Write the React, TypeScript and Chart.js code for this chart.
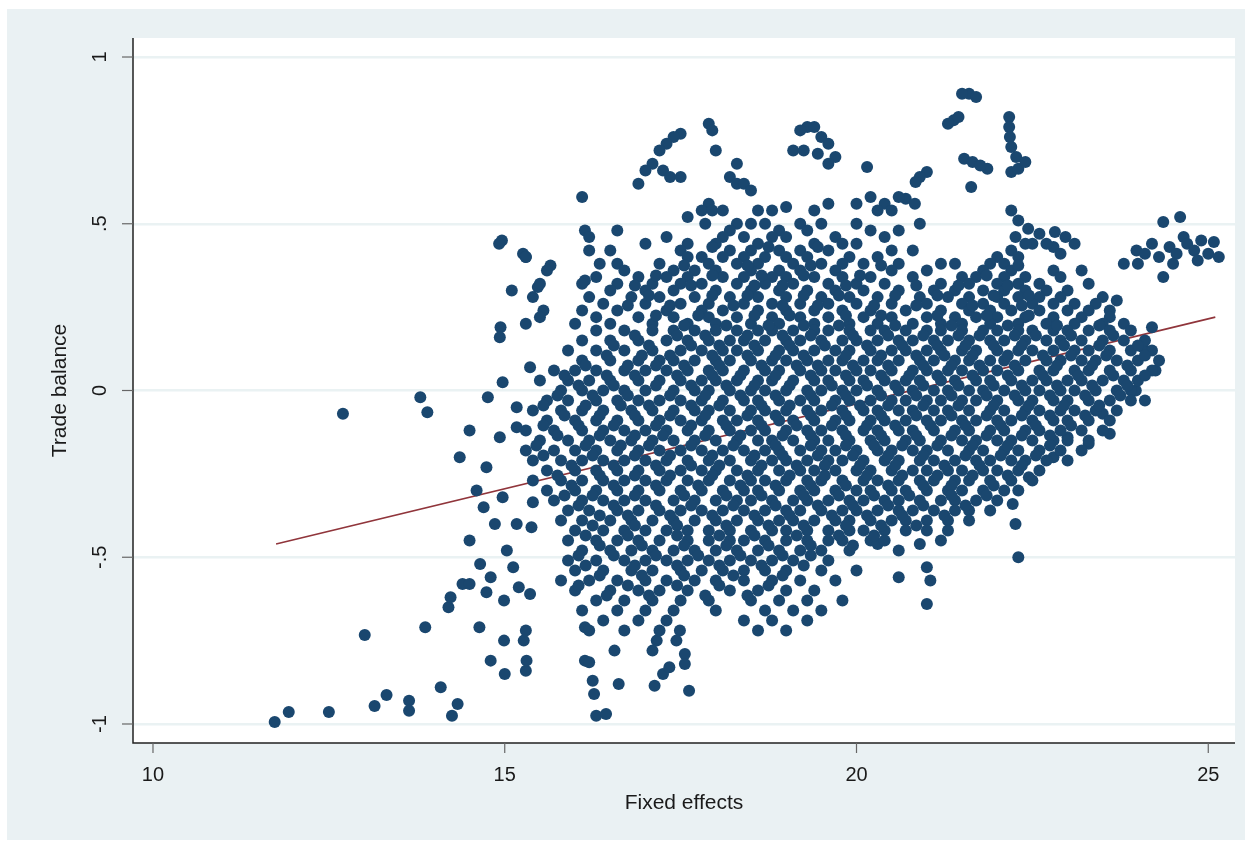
import { useEffect, useRef } from "react"
import { Chart, registerables } from "chart.js"
import type { Plugin } from "chart.js"

Chart.register(...registerables)

// axis ticks
const xTicks: number[] = [10, 15, 20, 25]
const xTickLabels: string[] = ["10", "15", "20", "25"]
const yTicks: number[] = [-1, -0.5, 0, 0.5, 1]
const yTickLabels: string[] = ["-1", "-.5", "0", ".5", "1"]

// fitted line end points
const fitX: number[] = [11.75, 25.1]
const fitY: number[] = [-0.46, 0.22]

// isolated points, "x,y"
const outliers: string[] = [
  "11.73,-0.994", "11.93,-0.964", "12.5,-0.964", "13.01,-0.733", "13.15,-0.946", "13.32,-0.913",
  "13.64,-0.93", "13.64,-0.96", "14.09,-0.89", "14.25,-0.975", "14.33,-0.94", "12.7,-0.07",
  "13.8,-0.02", "13.9,-0.065", "13.87,-0.71", "14.2,-0.65", "14.23,-0.62", "14.4,-0.58", "14.5,-0.58",
  "14.36,-0.2", "14.5,-0.12", "16.1,0.58", "14.96,0.45", "15.26,0.41", "15.65,0.375", "15.47,0.31",
  "15.55,0.24", "14.94,0.19", "16.14,0.48", "16.14,0.33", "14.76,-0.02", "14.97,0.025", "15.36,0.07",
  "15.17,-0.05", "15.17,-0.11", "14.93,-0.14", "14.74,-0.23", "14.97,-0.32", "15.4,-0.335",
  "14.86,-0.4", "15.17,-0.4", "15.38,-0.41", "15.03,-0.48", "15.12,-0.53", "14.8,-0.56", "15.2,-0.59",
  "14.74,-0.605", "14.99,-0.63", "15.36,-0.61", "14.64,-0.71", "14.99,-0.75", "15.27,-0.75",
  "15.3,-0.72", "16.14,-0.71", "16.14,-0.81", "16.25,-0.87", "16.56,-0.78", "17.16,-0.75",
  "17.1,-0.78", "17.49,-0.72", "17.56,-0.79", "17.44,-0.75", "16.2,-0.815", "16.27,-0.91",
  "16.3,-0.975", "16.44,-0.97", "16.62,-0.88", "17.13,-0.885", "17.25,-0.85", "17.34,-0.83",
  "17.62,-0.9", "17.56,-0.82", "14.8,-0.81", "15.0,-0.85", "15.3,-0.84", "15.31,-0.81",
  "14.92,0.44", "14.93,0.16", "15.3,0.4", "14.6,-0.3", "14.7,-0.35", "14.5,-0.45", "14.65,-0.52",
  "21.6,0.89", "21.5,0.89", "21.7,0.88", "21.38,0.81", "21.3,0.8", "21.45,0.82", "22.17,0.82",
  "22.17,0.79", "22.18,0.76", "22.27,0.7", "22.2,0.73", "21.53,0.695", "21.65,0.685", "21.86,0.665",
  "21.76,0.675", "22.2,0.655", "22.3,0.665", "22.4,0.685", "21.63,0.61", "20.15,0.67", "21.0,0.655",
  "20.9,0.64", "20.84,0.625", "20.2,0.58", "20.7,0.575", "20.83,0.56", "20.6,0.58", "22.2,0.54",
  "22.3,0.51", "22.44,0.485", "22.82,0.475", "22.97,0.46", "22.8,0.43", "22.26,0.46", "22.6,0.47",
  "23.2,0.36", "24.6,0.52", "24.36,0.505", "23.98,0.42", "24.36,0.34", "25.08,0.445", "24.65,0.46",
  "22.22,-0.34", "22.26,-0.4", "22.3,-0.5", "21.0,-0.53", "21.05,-0.57", "20.2,-0.45", "20.3,-0.46",
  "20.9,-0.46", "21.0,-0.64", "20.6,-0.56", "23.5,-0.07", "23.6,-0.13", "23.3,-0.16", "23.0,-0.14",
  "22.45,-0.26", "22.8,-0.2", "24.2,0.19", "24.07,0.13", "24.25,0.06", "23.97,0.0", "23.7,0.27",
  "19.3,0.79", "19.4,0.79", "19.2,0.78", "19.5,0.76", "19.6,0.74", "19.1,0.72", "19.25,0.72",
  "19.45,0.71", "19.7,0.7", "19.6,0.68", "17.9,0.8", "17.95,0.78", "17.5,0.77", "17.4,0.76",
  "17.3,0.74", "17.2,0.72", "18.0,0.72", "17.1,0.68", "17.0,0.66", "17.25,0.66", "17.35,0.64",
  "17.5,0.64", "18.2,0.64", "18.3,0.68", "18.3,0.62", "18.4,0.62", "16.9,0.62", "18.5,0.6",
  "17.9,0.56", "17.8,0.54", "17.95,0.54", "18.1,0.54", "17.6,0.52", "19.6,0.56", "20.0,0.56",
  "20.4,0.56", "20.3,0.54", "20.5,0.54", "18.6,0.54", "18.8,0.54", "19.0,0.55", "19.4,0.54",
  "24.2,0.44", "24.45,0.43", "24.7,0.44", "24.9,0.45", "24.1,0.41", "24.3,0.4", "24.55,0.41",
  "24.8,0.42", "25.0,0.41", "25.15,0.4", "24.0,0.38", "24.5,0.38", "24.85,0.39", "23.8,0.38",
  "23.1,0.44", "22.9,0.41", "22.5,0.44", "23.3,0.32",
]

// rows of the upper band: "y|x x x"
const upperRows: string[] = [
  "0.50|17.85 18.3 18.5 18.7 19.2 19.5 20.0 20.9",
  "0.48|16.6 18.2 18.9 19.3 20.2 20.6",
  "0.46|16.2 17.3 18.1 18.4 18.8 19.0 19.7 20.4",
  "0.44|17.0 17.6 18.0 18.6 19.4 19.8 20.0 22.4 22.7",
  "0.42|16.2 16.5 17.5 18.2 18.5 18.9 19.2 19.6 20.5 20.8 22.2",
  "0.40|15.3 17.6 17.8 18.1 18.4 18.7 19.0 19.3 19.9 20.3 22.0 22.3",
  "0.38|16.35 16.6 17.2 17.9 18.3 18.6 19.1 19.5 19.8 20.1 20.6 21.2 21.4 21.9 22.1",
  "0.36|15.6 16.7 17.4 17.7 18.0 18.5 18.9 19.2 19.7 20.5 21.0 21.8 22.2 22.8",
  "0.34|16.3 16.9 17.3 17.6 18.1 18.4 18.8 19.0 19.4 19.8 20.2 20.8 21.5 21.7 22.1 22.4 22.9",
  "0.32|15.5 16.1 16.6 17.1 17.5 17.8 18.3 18.7 19.1 19.6 20.0 20.4 21.2 21.6 22.0 22.3 22.6",
  "0.30|15.1 16.5 17.0 17.4 18.0 18.5 18.9 19.3 19.7 20.1 20.6 21.1 21.4 21.8 22.1 22.4 22.7 23.0",
  "0.28|15.4 16.2 16.8 17.2 17.7 18.2 18.6 19.0 19.5 19.9 20.3 20.9 21.3 21.6 22.0 22.3 22.6 22.9 23.5",
  "0.26|16.4 17.0 17.5 17.9 18.4 18.8 19.2 19.6 20.0 20.5 21.0 21.5 21.8 22.1 22.5 22.8 23.1 23.4",
  "0.24|16.1 16.6 17.3 17.8 18.1 18.6 19.0 19.4 19.8 20.2 20.7 21.2 21.6 21.9 22.2 22.6 23.0 23.3 23.6",
  "0.22|15.5 16.3 16.9 17.4 17.9 18.3 18.8 19.2 19.6 20.1 20.5 21.0 21.4 21.7 22.0 22.4 22.8 23.2 23.6",
  "0.20|15.3 16.0 16.5 17.1 17.6 18.0 18.5 18.9 19.4 19.9 20.3 20.8 21.2 21.5 21.9 22.3 22.7 23.1 23.5 23.8",
]

// rows of the dense core
const coreRows: string[] = [
  "0.18|16.3 16.7 17.1 17.4 17.7 18.0 18.3 18.6 18.8 19.1 19.4 19.6 19.9 20.2 20.4 20.7 21.0 21.2 21.5 21.8 22.0 22.3 22.5 22.8 23.0 23.3 23.6 23.9",
  "0.15|16.1 16.5 16.9 17.3 17.6 17.9 18.2 18.4 18.7 19.0 19.2 19.5 19.8 20.0 20.3 20.6 20.8 21.1 21.3 21.6 21.9 22.1 22.4 22.7 22.9 23.2 23.5 23.8 24.1",
  "0.12|15.9 16.3 16.7 17.1 17.5 17.8 18.1 18.3 18.6 18.9 19.1 19.4 19.7 19.9 20.2 20.5 20.7 21.0 21.2 21.5 21.7 22.0 22.3 22.5 22.8 23.1 23.3 23.6 23.9 24.2",
  "0.09|16.1 16.5 16.9 17.2 17.4 17.7 18.0 18.2 18.5 18.8 19.0 19.3 19.6 19.8 20.1 20.3 20.6 20.9 21.1 21.4 21.6 21.9 22.1 22.4 22.7 22.9 23.2 23.4 23.7 24.0 24.3",
  "0.06|15.7 16.0 16.3 16.7 17.0 17.3 17.6 17.9 18.1 18.4 18.7 18.9 19.2 19.5 19.7 20.0 20.2 20.5 20.8 21.0 21.3 21.5 21.8 22.0 22.3 22.6 22.8 23.1 23.3 23.6 23.9 24.2",
  "0.03|15.5 15.9 16.2 16.5 16.9 17.2 17.5 17.8 18.0 18.3 18.6 18.8 19.1 19.4 19.6 19.9 20.1 20.4 20.7 20.9 21.2 21.4 21.7 21.9 22.2 22.5 22.7 23.0 23.2 23.5 23.8 24.0",
  "0.00|15.8 16.1 16.4 16.7 17.0 17.4 17.7 17.9 18.2 18.5 18.7 19.0 19.3 19.5 19.8 20.0 20.3 20.6 20.8 21.1 21.3 21.6 21.8 22.1 22.4 22.6 22.9 23.1 23.4 23.7 23.9",
  "-0.03|15.6 15.9 16.3 16.6 16.9 17.2 17.5 17.8 18.1 18.4 18.6 18.9 19.2 19.4 19.7 19.9 20.2 20.5 20.7 21.0 21.2 21.5 21.7 22.0 22.3 22.5 22.8 23.0 23.3 23.6 23.9 24.1",
  "-0.06|15.4 15.8 16.1 16.4 16.8 17.1 17.4 17.7 17.9 18.2 18.5 18.7 19.0 19.3 19.5 19.8 20.1 20.3 20.6 20.8 21.1 21.3 21.6 21.9 22.1 22.4 22.6 22.9 23.1 23.4 23.7",
  "-0.09|15.6 16.0 16.3 16.6 16.9 17.2 17.5 17.8 18.1 18.3 18.6 18.9 19.1 19.4 19.7 19.9 20.2 20.4 20.7 21.0 21.2 21.5 21.7 22.0 22.2 22.5 22.8 23.0 23.3 23.6",
  "-0.12|15.3 15.7 16.1 16.4 16.7 17.0 17.3 17.6 17.9 18.2 18.5 18.7 19.0 19.3 19.5 19.8 20.1 20.3 20.6 20.8 21.1 21.4 21.6 21.9 22.1 22.4 22.6 22.9 23.2 23.5",
  "-0.15|15.5 15.9 16.2 16.5 16.8 17.1 17.4 17.7 18.0 18.3 18.6 18.8 19.1 19.4 19.6 19.9 20.2 20.4 20.7 20.9 21.2 21.5 21.7 22.0 22.2 22.5 22.8 23.0 23.3",
  "-0.18|15.3 15.7 16.0 16.3 16.6 16.9 17.2 17.5 17.8 18.1 18.4 18.7 18.9 19.2 19.5 19.7 20.0 20.3 20.5 20.8 21.0 21.3 21.6 21.8 22.1 22.3 22.6 22.9 23.2",
  "-0.21|15.4 15.8 16.1 16.4 16.7 17.0 17.3 17.6 17.9 18.2 18.5 18.8 19.0 19.3 19.6 19.8 20.1 20.4 20.6 20.9 21.1 21.4 21.7 21.9 22.2 22.4 22.7 23.0",
  "-0.24|15.6 16.0 16.3 16.6 16.9 17.2 17.5 17.8 18.0 18.3 18.6 18.9 19.2 19.4 19.7 20.0 20.2 20.5 20.8 21.0 21.3 21.5 21.8 22.0 22.3 22.6",
  "-0.27|15.4 15.8 16.1 16.4 16.7 17.0 17.3 17.6 17.9 18.2 18.5 18.7 19.0 19.3 19.5 19.8 20.1 20.3 20.6 20.9 21.1 21.4 21.6 21.9 22.2 22.5",
  "-0.30|15.6 16.0 16.3 16.6 16.9 17.2 17.5 17.8 18.1 18.4 18.6 18.9 19.2 19.4 19.7 20.0 20.2 20.5 20.7 21.0 21.3 21.5 21.8 22.1 22.3",
  "-0.33|15.7 16.1 16.4 16.7 17.0 17.4 17.7 18.0 18.3 18.5 18.8 19.1 19.3 19.6 19.9 20.1 20.4 20.6 20.9 21.2 21.4 21.7 22.0",
  "-0.36|15.9 16.2 16.6 16.9 17.2 17.5 17.8 18.1 18.4 18.7 19.0 19.2 19.5 19.8 20.0 20.3 20.6 20.8 21.1 21.4 21.6 21.9",
  "-0.39|15.8 16.1 16.5 16.8 17.1 17.4 17.7 18.0 18.3 18.6 18.9 19.1 19.4 19.7 19.9 20.2 20.5 20.7 21.0 21.3 21.6",
  "-0.42|16.0 16.4 16.7 17.0 17.3 17.6 17.9 18.2 18.5 18.8 19.0 19.3 19.6 19.9 20.1 20.4 20.7 21.0 21.3",
  "-0.45|15.9 16.3 16.6 16.9 17.2 17.6 17.9 18.2 18.4 18.7 19.0 19.3 19.6 19.8 20.4 21.2",
  "-0.48|16.1 16.5 16.8 17.1 17.4 17.7 18.0 18.3 18.6 18.9 19.2 19.5 19.9 20.6",
  "-0.51|15.9 16.3 16.7 17.0 17.3 17.6 17.9 18.2 18.5 18.8 19.1 19.6",
  "-0.54|16.0 16.4 16.8 17.1 17.5 17.8 18.1 18.4 18.7 19.0 19.5 20.0",
  "-0.57|15.8 16.2 16.6 17.0 17.3 17.7 18.0 18.4 18.8 19.2 19.7",
  "-0.60|16.0 16.5 16.9 17.2 17.6 18.2 18.6 19.0 19.4",
  "-0.63|16.3 16.7 17.1 17.5 17.9 18.5 18.9 19.3 19.8",
  "-0.66|16.1 16.6 17.0 17.4 18.0 18.7 19.1 19.5",
  "-0.69|16.4 16.9 17.3 18.4 18.8 19.3",
  "-0.72|16.2 16.7 17.2 18.6 19.0",
]

// extra points filling the heart of the cloud
const fillRows: string[] = [
  "0.195|17.55 18.15 18.75 19.25 19.75 20.55 21.35 22.15 22.85 23.45",
  "0.165|16.85 17.45 17.85 18.45 18.95 19.35 19.95 20.45 20.95 21.45 21.75 22.25 22.55 23.05 23.65",
  "0.135|16.55 17.05 17.65 18.05 18.55 19.05 19.55 20.15 20.65 21.15 21.55 21.95 22.35 22.95 23.45 24.0",
  "0.105|16.45 16.95 17.35 17.95 18.45 18.85 19.25 19.85 20.35 20.85 21.25 21.65 22.15 22.65 23.05 23.55 24.1",
  "0.075|16.15 16.75 17.15 17.55 18.05 18.65 19.15 19.45 19.95 20.45 20.95 21.35 21.75 22.25 22.85 23.35 23.85",
  "0.045|15.85 16.45 16.85 17.45 17.95 18.35 18.85 19.35 19.85 20.35 20.75 21.15 21.65 22.15 22.65 23.15 23.65 24.1",
  "0.015|16.05 16.55 17.15 17.65 18.15 18.55 19.05 19.65 20.15 20.55 20.95 21.45 21.95 22.35 22.85 23.35 23.85",
  "-0.015|15.75 16.25 16.75 17.35 17.85 18.35 18.85 19.35 19.85 20.35 20.85 21.35 21.85 22.25 22.75 23.25 23.75",
  "-0.045|15.55 16.15 16.65 17.05 17.65 18.05 18.65 19.05 19.65 20.05 20.45 20.95 21.45 21.95 22.45 22.95 23.45",
  "-0.075|15.85 16.35 16.85 17.35 17.85 18.45 18.85 19.35 19.85 20.35 20.85 21.35 21.85 22.35 22.75 23.25",
  "-0.105|15.55 16.05 16.55 17.15 17.65 18.15 18.65 19.15 19.65 20.15 20.55 21.05 21.55 22.05 22.55 23.05",
  "-0.135|15.75 16.35 16.85 17.25 17.85 18.35 18.95 19.35 19.85 20.35 20.85 21.35 21.85 22.35 22.75",
  "-0.165|15.45 16.15 16.65 17.05 17.65 18.25 18.85 19.35 19.85 20.25 20.65 21.15 21.65 22.15 22.75",
  "-0.195|15.55 16.25 16.85 17.35 17.95 18.55 18.95 19.45 19.95 20.45 20.95 21.55 22.05 22.55",
  "-0.225|15.95 16.55 17.15 17.65 18.05 18.65 19.15 19.55 20.05 20.55 21.25 21.75 22.35",
  "-0.255|15.75 16.35 16.85 17.35 17.95 18.45 19.05 19.55 20.15 20.65 21.15 21.65 22.15",
  "-0.285|15.95 16.55 17.15 17.75 18.35 18.85 19.35 19.85 20.45 20.95 21.35 21.95",
  "-0.315|15.85 16.25 16.85 17.55 18.15 18.65 19.25 19.75 20.25 20.75 21.35 21.85",
  "-0.345|16.05 16.55 17.15 17.65 18.25 18.85 19.45 19.95 20.45 20.95 21.55",
  "-0.375|16.35 16.75 17.35 17.95 18.55 19.05 19.65 20.15 20.65 21.25",
  "-0.405|16.25 16.85 17.45 18.15 18.75 19.25 19.85 20.35 20.85",
  "-0.435|16.15 16.75 17.45 18.05 18.55 19.15 19.75 20.25",
  "-0.465|16.35 16.95 17.55 18.15 18.75 19.35 19.95",
  "-0.495|16.05 16.55 17.15 17.75 18.35 18.95 19.35",
  "-0.525|16.15 16.85 17.45 18.05 18.65 19.25",
  "-0.555|16.35 16.95 17.55 18.25 18.95",
  "-0.585|16.05 16.75 17.45 18.05 18.75",
  "-0.615|16.45 17.05 17.85 18.45",
  "0.225|17.15 17.75 18.55 19.05 19.85 20.35 21.15 21.85 22.45",
  "0.255|16.75 17.35 18.25 18.95 19.45 20.25 20.85 21.65 22.35",
  "0.285|17.05 17.95 18.45 19.25 19.75 20.55 21.15 21.95 22.45",
  "0.315|16.85 17.65 18.55 18.95 19.85 20.85 21.45 22.15",
  "0.345|17.15 17.95 18.65 19.25 20.05 21.85",
  "0.375|17.55 18.45 19.35 20.35 22.3",
  "0.43|17.95 18.75 19.45",
]

const parseRows = (rows: string[]) =>
  rows.flatMap((r) => {
    const [y, xs] = r.split("|")
    return xs.split(" ").map((x) => ({ x: parseFloat(x), y: parseFloat(y) }))
  })

const points = [
  ...outliers.map((s) => {
    const [x, y] = s.split(",")
    return { x: parseFloat(x), y: parseFloat(y) }
  }),
  ...parseRows(upperRows),
  ...parseRows(coreRows),
  ...parseRows(fillRows),
]

const FONT = "'Liberation Sans', Arial, sans-serif"

// draws plot background, axis texts and tick marks like Stata
const stataAxes: Plugin<"scatter"> = {
  id: "stataAxes",
  beforeDraw(chart) {
    const { ctx, chartArea } = chart
    ctx.save()
    ctx.fillStyle = "#ffffff"
    ctx.fillRect(chartArea.left, chartArea.top, chartArea.right - chartArea.left, chartArea.bottom - chartArea.top)
    ctx.restore()
  },
  afterDraw(chart) {
    const { ctx, chartArea, scales } = chart
    ctx.save()
    ctx.strokeStyle = "#222"
    ctx.lineWidth = 1.5
    ctx.beginPath()
    ctx.moveTo(chartArea.left, chartArea.top)
    ctx.lineTo(chartArea.left, chartArea.bottom)
    ctx.lineTo(chartArea.right, chartArea.bottom)
    ctx.stroke()
    ctx.fillStyle = "#1a1a1a"
    ctx.font = `20px ${FONT}`
    ctx.strokeStyle = "#666"
    ctx.lineWidth = 1.2
    xTicks.forEach((v, i) => {
      const px = scales.x.getPixelForValue(v)
      ctx.beginPath()
      ctx.moveTo(px, chartArea.bottom)
      ctx.lineTo(px, chartArea.bottom + 10)
      ctx.stroke()
      ctx.textAlign = "center"
      ctx.textBaseline = "middle"
      ctx.fillText(xTickLabels[i], px, chartArea.bottom + 32)
    })
    yTicks.forEach((v, i) => {
      const py = scales.y.getPixelForValue(v)
      ctx.beginPath()
      ctx.moveTo(chartArea.left - 11, py)
      ctx.lineTo(chartArea.left, py)
      ctx.stroke()
      ctx.save()
      ctx.translate(chartArea.left - 33, py)
      ctx.rotate(-Math.PI / 2)
      ctx.textAlign = "center"
      ctx.textBaseline = "middle"
      ctx.fillText(yTickLabels[i], 0, 0)
      ctx.restore()
    })
    ctx.font = `21px ${FONT}`
    ctx.textAlign = "center"
    ctx.textBaseline = "middle"
    ctx.fillText("Fixed effects", (chartArea.left + chartArea.right) / 2, 803)
    ctx.save()
    ctx.translate(60, (chartArea.top + chartArea.bottom) / 2)
    ctx.rotate(-Math.PI / 2)
    ctx.fillText("Trade balance", 0, 0)
    ctx.restore()
    ctx.restore()
  },
}

export default function App() {
  const canvasRef = useRef<HTMLCanvasElement | null>(null)

  useEffect(() => {
    document.body.style.margin = "0"
    if (!canvasRef.current) return
    const chart = new Chart(canvasRef.current, {
      type: "scatter",
      data: {
        datasets: [
          {
            label: "points",
            data: points,
            backgroundColor: "#1a476f",
            borderWidth: 0,
            pointRadius: 6,
            pointHoverRadius: 6,
          },
          {
            label: "fit",
            type: "line",
            data: fitX.map((x, i) => ({ x, y: fitY[i] })),
            borderColor: "#90353b",
            borderWidth: 1.6,
            pointRadius: 0,
            fill: false,
          } as any,
        ],
      },
      options: {
        animation: false,
        responsive: false,
        layout: { padding: { top: 38, right: 16, left: 0, bottom: 0 } },
        plugins: { legend: { display: false }, tooltip: { enabled: false } },
        scales: {
          x: {
            type: "linear",
            min: 9.716,
            max: 25.38,
            afterBuildTicks: (s) => { s.ticks = xTicks.map((v) => ({ value: v })) },
            afterFit: (s) => { s.height = 105 },
            ticks: { display: false },
            grid: { display: false },
            border: { display: false },
          },
          y: {
            type: "linear",
            min: -1.057,
            max: 1.057,
            afterBuildTicks: (s) => { s.ticks = yTicks.map((v) => ({ value: v })) },
            afterFit: (s) => { s.width = 133 },
            ticks: { display: false },
            grid: { color: "#eaf2f3", lineWidth: 2.5, drawTicks: false },
            border: { display: false },
          },
        },
      },
      plugins: [stataAxes],
    })
    return () => chart.destroy()
  }, [])

  return (
    <div style={{ position: "relative", width: 1251, height: 848, background: "#ffffff" }}>
      <div style={{ position: "absolute", left: 7, top: 9, width: 1238, height: 831, background: "#eaf1f3" }} />
      <canvas ref={canvasRef} width={1251} height={848} style={{ position: "absolute", left: 0, top: 0 }} />
    </div>
  )
}
